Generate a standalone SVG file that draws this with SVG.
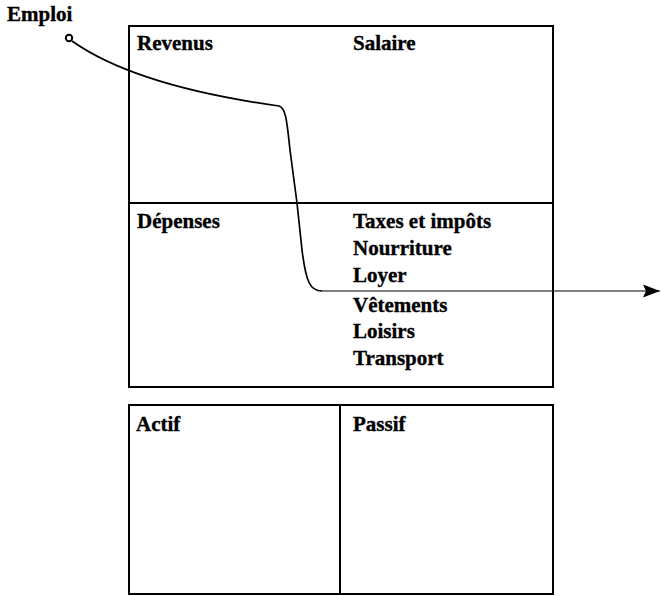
<svg xmlns="http://www.w3.org/2000/svg" width="661" height="596" viewBox="0 0 661 596">
<style>
.t{font-family:"Liberation Serif","Times New Roman",serif;font-weight:bold;font-size:21px;fill:#000;stroke:#000;stroke-width:0.35}
.box{fill:none;stroke:#000;stroke-width:2}
.con{fill:none;stroke:#000;stroke-width:1.7}
</style>
<defs>
<marker id="ah" markerUnits="userSpaceOnUse" markerWidth="20" markerHeight="16" refX="17" refY="8" orient="auto">
<path d="M0,1.5 L17,8 L0,14.5 L3,8 Z" fill="#000"/>
</marker>
</defs>
<rect width="661" height="596" fill="#fff"/>
<g id="emploi">
<text class="t" x="7" y="21">Emploi</text>
</g>
<g id="revenus">
<rect class="box" x="129" y="26" width="424" height="177"/>
<text class="t" x="137" y="50">Revenus</text>
<text class="t" x="353" y="50">Salaire</text>
</g>
<g id="depenses">
<rect class="box" x="129" y="203" width="424" height="184"/>
<text class="t" x="137" y="228">Dépenses</text>
<text class="t" x="353" y="228">Taxes et impôts</text>
<text class="t" x="353" y="255">Nourriture</text>
<text class="t" x="353" y="282">Loyer</text>
<text class="t" x="353" y="312">Vêtements</text>
<text class="t" x="353" y="338">Loisirs</text>
<text class="t" x="353" y="365">Transport</text>
</g>
<g id="actif">
<rect class="box" x="129" y="405" width="211" height="189"/>
<text class="t" x="136" y="431">Actif</text>
</g>
<g id="passif">
<rect class="box" x="340" y="405" width="213" height="189"/>
<text class="t" x="353" y="431">Passif</text>
</g>
<g id="connectors">
<circle cx="69" cy="38" r="3.2" fill="none" stroke="#000" stroke-width="2"/>
<path class="con" d="M72,41 C120,75 200,95 279,106 C286,108 287,122 290,150 L297,203 L302,250 C306,282 310,291 322,291"/>
<path d="M322,291 L660,291" fill="none" stroke="#000" stroke-width="1.2" marker-end="url(#ah)"/>
</g>
</svg>
